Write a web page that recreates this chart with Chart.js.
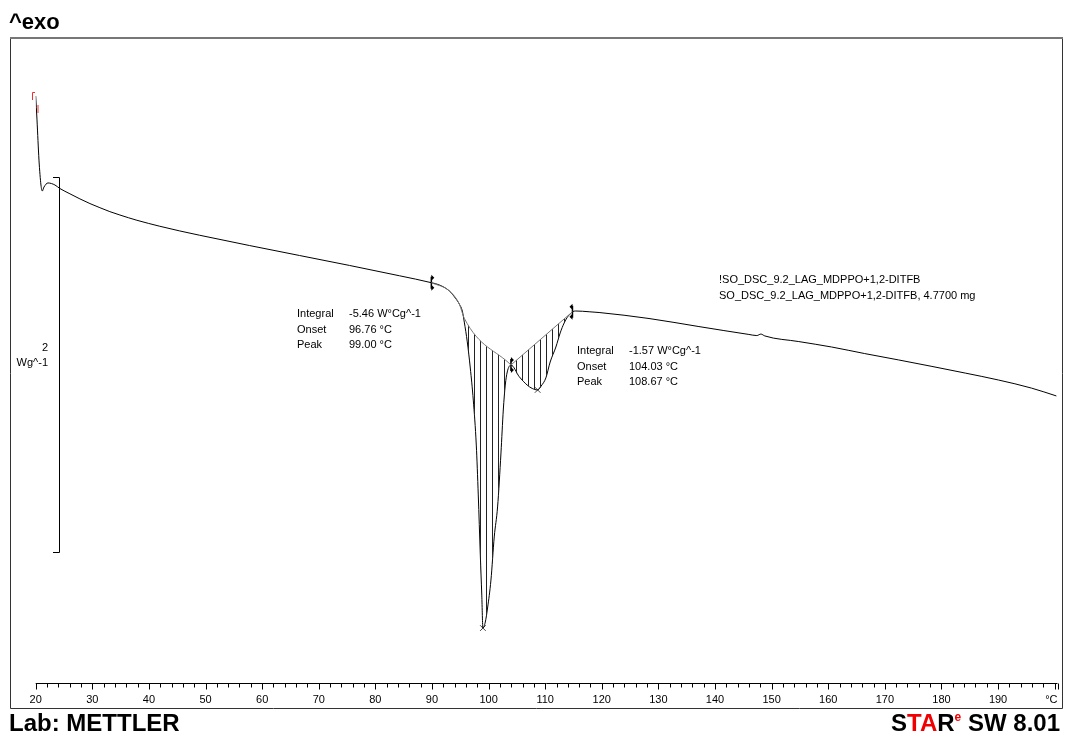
<!DOCTYPE html>
<html>
<head>
<meta charset="utf-8">
<script src="https://cdn.jsdelivr.net/npm/chart.js@4.4.1/dist/chart.umd.min.js"></script>
<style>
body { margin: 0; background: #fff; }
#wrap { width: 1065px; height: 736px; position: relative; }
</style>
</head>
<body>
<div id="wrap"><canvas id="dsc"></canvas></div>
<script>
// measured curve, temperature in °C and heat flow in W/g (offset arbitrary)
const tempC = [20.00, 20.23, 20.58, 20.93, 21.16, 21.46, 22.17, 23.40, 24.29, 26.05, 27.81, 29.58,
  31.34, 33.10, 34.87, 37.87, 41.92, 45.45, 48.97, 57.80, 66.61, 75.43, 84.25, 89.89, 91.30,
  93.07, 94.13, 94.83, 95.36, 95.71, 96.24, 96.77, 97.30, 97.83, 98.18, 98.54, 98.80, 99.00,
  99.42, 99.82, 100.42, 101.00, 101.59, 102.19, 102.60, 102.95, 103.30, 103.95, 105.41,
  106.82, 107.71, 108.67, 109.29, 110.12, 110.88, 111.89, 112.65, 113.35, 114.06, 114.59,
  114.82, 115.41, 117.76, 119.52, 128.34, 137.16, 145.98, 147.39, 148.10, 148.80, 154.80,
  160.60, 166.44, 172.44, 184.20, 190.07, 195.89, 200.30];
const heatFlow = [3.131, 3.003, 2.789, 2.656, 2.624, 2.645, 2.667, 2.656, 2.637, 2.609, 2.582, 2.557,
  2.535, 2.514, 2.496, 2.468, 2.436, 2.411, 2.388, 2.333, 2.280, 2.227, 2.172, 2.135, 2.123,
  2.091, 2.053, 2.021, 1.984, 1.925, 1.819, 1.680, 1.509, 1.269, 1.003, 0.683, 0.469, 0.293,
  0.325, 0.400, 0.549, 0.779, 0.939, 1.227, 1.456, 1.589, 1.659, 1.696, 1.634,
  1.589, 1.571, 1.563, 1.584, 1.627, 1.712, 1.792, 1.867, 1.920, 1.957, 1.973,
  1.980, 1.984, 1.980, 1.976, 1.944, 1.901, 1.859, 1.853, 1.861, 1.851, 1.821,
  1.792, 1.757, 1.723, 1.653, 1.616, 1.573, 1.531];

// integration baselines
const base1T = [89.89, 93.07, 94.83, 95.71, 103.95];
const base1V = [2.135, 2.091, 2.021, 1.945, 1.696];
const base2T = [103.95, 114.82];
const base2V = [1.696, 1.980];

// evaluation marks
const peakT = [99.00, 108.67];
const peakV = [0.293, 1.563];
const limitT = [89.89, 103.95, 114.82];
const limitV = [2.135, 1.696, 1.980];

const majorTicks = [20, 30, 40, 50, 60, 70, 80, 90, 100, 110, 120, 130, 140, 150, 160, 170, 180, 190];
const tickLabels = ['20', '30', '40', '50', '60', '70', '80', '90', '100', '110', '120', '130', '140', '150', '160', '170', '180', '190'];

const peak1Text = [['Integral', '-5.46 W°Cg^-1'], ['Onset', '96.76 °C'], ['Peak', '99.00 °C']];
const peak2Text = [['Integral', '-1.57 W°Cg^-1'], ['Onset', '104.03 °C'], ['Peak', '108.67 °C']];
const sampleText = ['!SO_DSC_9.2_LAG_MDPPO+1,2-DITFB', 'SO_DSC_9.2_LAG_MDPPO+1,2-DITFB, 4.7700 mg'];

function pts(xs, ys) {
    return xs.map(function(x, i) { return {x: x, y: ys[i]}; });
}
var curve = pts(tempC, heatFlow);
var area1 = curve.filter(function(p) { return p.x >= 95.71 && p.x <= 103.95; });
var area2 = curve.filter(function(p) { return p.x >= 103.95 && p.x <= 114.82; });

// vertical hatch for the integrated areas
var pc = document.createElement('canvas');
pc.width = 6; pc.height = 4;
var pctx = pc.getContext('2d');
pctx.fillStyle = '#222';
pctx.fillRect(0, 0, 1, 4);
var hatch = pctx.createPattern(pc, 'repeat');

const FONT = '"Liberation Sans", Arial, sans-serif';

var decor = {
    id: 'decor',
    afterDraw: function(chart) {
        var ctx = chart.ctx;
        var xs = chart.scales.x, ys = chart.scales.y;
        var area = chart.chartArea;
        ctx.save();

        // frame
        ctx.strokeStyle = '#333';
        ctx.lineWidth = 1;
        ctx.beginPath();
        ctx.moveTo(10.5, 38); ctx.lineTo(10.5, 708.5); ctx.lineTo(1062.5, 708.5); ctx.lineTo(1062.5, 38);
        ctx.stroke();
        ctx.strokeStyle = '#777';
        ctx.lineWidth = 2;
        ctx.beginPath(); ctx.moveTo(10, 38); ctx.lineTo(1063, 38); ctx.stroke();

        // ^exo
        ctx.fillStyle = '#000';
        ctx.font = 'bold 22px ' + FONT;
        ctx.textBaseline = 'alphabetic';
        ctx.textAlign = 'left';
        ctx.fillText('^exo', 9, 29);

        // x axis
        var ay = area.bottom + 0.5;
        ctx.strokeStyle = '#000';
        ctx.lineWidth = 1;
        ctx.beginPath();
        ctx.moveTo(xs.getPixelForValue(20), ay);
        ctx.lineTo(xs.getPixelForValue(xs.max), ay);
        for (var t = 20; t <= 200; t += 2) {
            var px = Math.round(xs.getPixelForValue(t)) + 0.5;
            ctx.moveTo(px, ay);
            ctx.lineTo(px, ay + (t % 10 === 0 ? 6 : 4));
        }
        var pe = Math.round(xs.getPixelForValue(xs.max)) + 0.5;
        ctx.moveTo(pe, ay); ctx.lineTo(pe, ay + 6);
        ctx.stroke();
        ctx.font = '11px ' + FONT;
        ctx.textAlign = 'center';
        ctx.textBaseline = 'middle';
        majorTicks.forEach(function(v, i) {
            ctx.fillText(tickLabels[i], xs.getPixelForValue(v), 700);
        });
        ctx.textAlign = 'right';
        ctx.fillText('°C', pe - 1, 700);

        // scale bar 2 W/g
        var sx = 59.5;
        var sTop = Math.round(ys.getPixelForValue(2.70)) + 0.5;
        var sBot = Math.round(ys.getPixelForValue(0.70)) + 0.5;
        ctx.beginPath();
        ctx.moveTo(53, sTop); ctx.lineTo(sx, sTop); ctx.lineTo(sx, sBot); ctx.lineTo(53, sBot);
        ctx.stroke();
        ctx.font = '11px ' + FONT;
        ctx.textAlign = 'right';
        ctx.fillText('2', 48, 348);
        ctx.fillText('Wg^-1', 48, 363);

        // red start marks
        ctx.strokeStyle = '#f03030';
        ctx.beginPath();
        ctx.moveTo(35, 92.5); ctx.lineTo(32.5, 92.5); ctx.lineTo(32.5, 100);
        ctx.moveTo(38, 105); ctx.lineTo(38, 113);
        ctx.stroke();

        // small arrow heads on the integration limits
        ctx.fillStyle = '#000';
        var dirs = [1, 0, -1];
        limitT.forEach(function(t, i) {
            var lx = xs.getPixelForValue(t), ly = ys.getPixelForValue(limitV[i]);
            [-5, 5].forEach(function(dy) {
                var d = dirs[i] || 1;
                ctx.beginPath();
                ctx.moveTo(lx, ly + dy - 3);
                ctx.lineTo(lx + 3 * d, ly + dy);
                ctx.lineTo(lx, ly + dy + 3);
                ctx.fill();
            });
        });

        // evaluation results
        ctx.fillStyle = '#000';
        ctx.textAlign = 'left';
        peak1Text.forEach(function(r, i) {
            ctx.fillText(r[0], 297, 314 + i * 15.5);
            ctx.fillText(r[1], 349, 314 + i * 15.5);
        });
        peak2Text.forEach(function(r, i) {
            ctx.fillText(r[0], 577, 351 + i * 15.5);
            ctx.fillText(r[1], 629, 351 + i * 15.5);
        });
        sampleText.forEach(function(s, i) {
            ctx.fillText(s, 719, 280 + i * 16);
        });

        // footer
        ctx.textBaseline = 'alphabetic';
        ctx.font = 'bold 24px ' + FONT;
        ctx.fillText('Lab: METTLER', 9, 731);
        var parts = [['S', '#000', 24, 0], ['TA', '#f00000', 24, 0], ['R', '#000', 24, 0], ['e', '#f00000', 12, -10], [' SW 8.01', '#000', 24, 0]];
        var total = 0;
        parts.forEach(function(p) { ctx.font = 'bold ' + p[2] + 'px ' + FONT; total += ctx.measureText(p[0]).width; });
        var cx = 1060 - total;
        parts.forEach(function(p) {
            ctx.font = 'bold ' + p[2] + 'px ' + FONT;
            ctx.fillStyle = p[1];
            ctx.fillText(p[0], cx, 731 + p[3]);
            cx += ctx.measureText(p[0]).width;
        });
        ctx.restore();
    }
};

new Chart(document.getElementById('dsc'), {
    type: 'line',
    data: {
        datasets: [
            {   // 0 baseline peak 1
                data: pts(base1T, base1V),
                borderColor: '#777', borderWidth: 1, pointRadius: 0, fill: false,
                cubicInterpolationMode: 'monotone'
            },
            {   // 1 baseline peak 2
                data: pts(base2T, base2V),
                borderColor: '#777', borderWidth: 1, pointRadius: 0, fill: false
            },
            {   // 2 hatched area 1
                data: area1,
                borderWidth: 0, borderColor: 'rgba(0,0,0,0)', pointRadius: 0,
                backgroundColor: hatch, fill: {target: 0}, cubicInterpolationMode: 'monotone'
            },
            {   // 3 hatched area 2
                data: area2,
                borderWidth: 0, borderColor: 'rgba(0,0,0,0)', pointRadius: 0,
                backgroundColor: hatch, fill: {target: 1}, cubicInterpolationMode: 'monotone'
            },
            {   // 4 measured curve
                data: curve,
                borderColor: '#000', borderWidth: 1, pointRadius: 0, fill: false,
                cubicInterpolationMode: 'monotone'
            },
            {   // 5 peak marks
                data: pts(peakT, peakV),
                showLine: false, pointStyle: 'crossRot', pointRadius: 4,
                borderColor: '#444', borderWidth: 1
            },
            {   // 6 integration limits
                data: pts(limitT, limitV),
                showLine: false, pointStyle: 'line', rotation: 90, pointRadius: 6,
                borderColor: '#000', borderWidth: 1.5
            }
        ]
    },
    options: {
        responsive: true,
        maintainAspectRatio: false,
        animation: false,
        layout: { padding: { left: 35.7, right: 5.9, top: 38, bottom: 53 } },
        scales: {
            x: { type: 'linear', min: 20, max: 200.5, display: false },
            y: { min: 0, max: 3.44, display: false }
        },
        plugins: { legend: { display: false }, tooltip: { enabled: false } },
        elements: { line: { tension: 0 } }
    },
    plugins: [decor]
});
</script>
</body>
</html>
